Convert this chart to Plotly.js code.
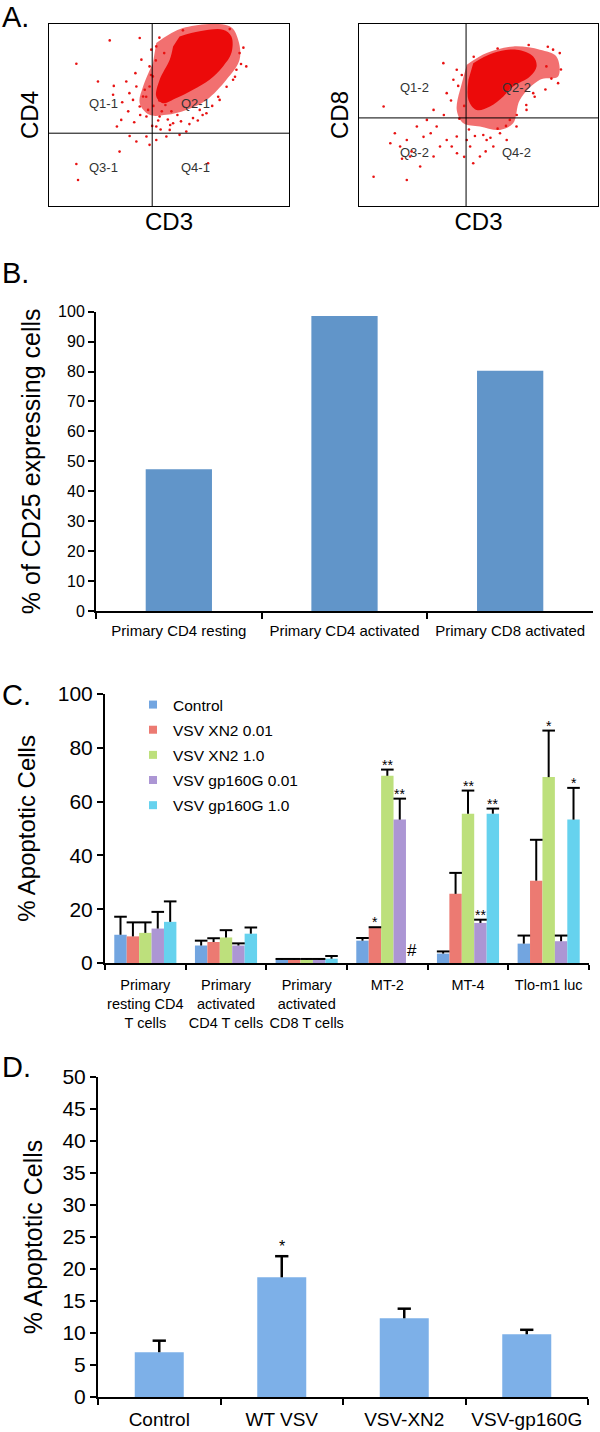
<!DOCTYPE html>
<html>
<head>
<meta charset="utf-8">
<script src="https://cdn.plot.ly/plotly-3.0.1.min.js"></script>
<style>html,body{margin:0;padding:0;background:#fff}#chart{width:600px;height:1432px}</style>
</head>
<body>
<div id="chart"></div>
<script>
// ---------------- Panel A: flow cytometry (arbitrary 0-100 fluorescence units) ----------------
const gateX = [43, 44.8];      // CD3 gate for plot 1 and plot 2
const gateY = [40, 48.4];      // CD4 gate (plot 1), CD8 gate (plot 2)
const quadLabels1 = ['Q1-1', 'Q2-1', 'Q3-1', 'Q4-1'];
const quadLabels2 = ['Q1-2', 'Q2-2', 'Q3-2', 'Q4-2'];

const haloA1x = [44.7, 55.8, 75.3, 78.8, 79.4, 73.9, 65.6, 57.2, 48.9, 41.9, 37.8, 39.2, 43.3];
const haloA1y = [89.5, 97.8, 98.7, 91.4, 80.4, 69.4, 58.3, 52.8, 50.1, 50.1, 56.5, 65.7, 78.5];
const coreA1x = [54.4, 62.8, 72.5, 76.0, 76.0, 72.5, 66.9, 60.0, 53.1, 47.5, 44.7, 46.1, 50.3, 51.7];
const coreA1y = [93.2, 96.0, 96.9, 93.2, 84.0, 76.7, 69.4, 63.9, 59.3, 56.5, 60.2, 69.4, 80.4, 87.7];
const dotsA1x = [25.3, 11.4, 20.4, 37.8, 38.5, 32.2, 26.7, 30.1, 28.3, 33.6, 36.4, 40.6, 41.9, 44.7, 48.9, 54.4, 57.2, 44.7, 46.1, 40.6, 37.8, 35.0, 39.2, 41.3, 11.4, 12.1, 29.4, 82.2, 76.7, 71.1, 65.6, 62.8, 60.0, 51.7, 50.3, 41.9, 39.9, 36.4, 43.3, 41.9, 42.6, 44.7, 55.8, 75.3, 79.4, 78.1, 66.3,
  45.5, 47.0, 49.5, 43.5, 46.0, 48.5, 51.0, 53.5, 55.0, 58.5, 62.0, 64.0, 68.0, 70.5, 74.0, 77.5, 80.0, 81.0, 46.0, 48.0, 44.5, 42.5, 40.5, 38.0, 35.5, 33.0, 30.5, 43.0, 46.5, 50.5, 33.5, 36.0, 27.0];
const dotsA1y = [91.0, 78.2, 68.4, 92.3, 80.4, 68.4, 61.1, 47.3, 43.7, 38.5, 35.4, 38.2, 33.6, 36.3, 38.2, 39.1, 40.9, 43.7, 49.2, 49.2, 54.7, 58.3, 60.2, 52.8, 23.1, 14.3, 29.9, 76.7, 69.4, 58.3, 51.0, 52.8, 48.3, 45.5, 41.8, 65.7, 63.9, 65.7, 71.2, 76.7, 85.9, 87.7, 96.5, 97.2, 84.0, 74.9, 23.5,
  47.0, 52.0, 47.5, 55.0, 58.0, 55.5, 52.0, 50.0, 46.5, 45.0, 47.0, 50.0, 55.0, 60.0, 65.5, 71.0, 78.0, 87.0, 92.5, 84.0, 80.0, 72.0, 60.0, 50.0, 46.0, 52.0, 57.0, 44.0, 42.0, 44.5, 62.0, 73.0, 66.0];

const haloA2x = [45.1, 53.4, 64.5, 75.7, 82.6, 83.3, 75.7, 67.3, 64.5, 59.0, 50.6, 43.7, 40.9, 42.3];
const haloA2y = [77.6, 84.0, 87.7, 85.9, 82.2, 71.2, 69.4, 58.3, 45.5, 41.8, 43.7, 45.5, 52.8, 63.9];
const coreA2x = [47.8, 56.2, 65.9, 72.9, 74.3, 71.5, 64.5, 60.4, 54.8, 49.2, 45.8, 45.8];
const coreA2y = [78.5, 84.0, 85.9, 82.2, 76.7, 71.2, 65.7, 60.2, 54.7, 52.8, 58.3, 69.4];
const dotsA2x = [81.2, 84.0, 83.3, 78.4, 72.9, 70.1, 65.9, 61.8, 56.2, 50.6, 47.8, 46.5, 40.9, 36.7, 32.5, 28.4, 24.2, 20.0, 17.2, 13.1, 10.3, 6.1, 20.0, 21.4, 25.6, 31.2, 33.9, 38.8, 35.3, 39.5, 40.9, 36.7, 31.2, 53.4, 59.0, 63.1, 45.1,
  44.0, 42.0, 46.0, 48.5, 52.0, 55.0, 58.0, 61.5, 66.0, 70.0, 73.5, 78.0, 80.5, 84.5, 79.0, 71.0, 58.0, 48.0, 43.0, 41.5, 38.5, 35.5, 30.0, 27.0, 22.0, 18.0, 15.0, 41.0, 44.0, 53.0];
const dotsA2y = [85.9, 84.0, 67.5, 76.7, 62.0, 52.8, 43.7, 36.3, 32.7, 27.2, 23.5, 32.7, 38.2, 36.3, 43.7, 47.3, 43.7, 36.3, 32.7, 34.5, 54.7, 16.1, 14.3, 27.2, 21.7, 27.2, 32.7, 32.7, 78.5, 69.4, 74.9, 62.0, 52.8, 36.3, 40.0, 47.3, 36.3,
  55.0, 48.0, 42.0, 38.5, 39.0, 37.5, 42.5, 44.0, 50.0, 55.5, 60.0, 64.0, 70.0, 75.0, 87.5, 88.5, 86.5, 82.0, 72.0, 66.0, 58.0, 50.0, 40.0, 38.0, 30.0, 26.0, 40.0, 29.0, 27.0, 30.0];

// ---------------- Panel B ----------------
const catB = ['Primary CD4 resting', 'Primary CD4 activated', 'Primary CD8 activated'];
const valB = [47.4, 98.6, 80.3];

// ---------------- Panel C ----------------
const catC = ['Primary<br>resting CD4<br>T cells', 'Primary<br>activated<br>CD4 T cells', 'Primary<br>activated<br>CD8 T cells', 'MT-2', 'MT-4', 'Tlo-m1 luc'];
const seriesC = ['Control', 'VSV XN2 0.01', 'VSV XN2 1.0', 'VSV gp160G 0.01', 'VSV gp160G 1.0'];
const colorsC = ['#72a5e0', '#ec7a72', '#bde07c', '#ac96d4', '#66d2ee'];
const controlC = [10.5, 6.5, 1.2, 8.3, 3.5, 7.2];
const xn2LowC = [9.9, 7.8, 1.2, 13.0, 25.7, 30.6];
const xn2HighC = [11.2, 9.5, 1.2, 69.6, 55.5, 69.1];
const gpLowC = [12.8, 6.5, 1.2, 53.3, 14.9, 8.1];
const gpHighC = [15.3, 10.9, 1.6, null, 55.5, 53.3];
const controlErrC = [6.7, 1.8, 0.3, 1.0, 0.8, 3.0];
const xn2LowErrC = [5.2, 1.4, 0.3, 0.3, 7.8, 15.2];
const xn2HighErrC = [3.9, 2.7, 0.3, 2.3, 8.6, 17.3];
const gpLowErrC = [6.2, 0.8, 0.3, 7.8, 1.2, 2.1];
const gpHighErrC = [7.6, 2.3, 1.0, null, 1.9, 11.8];
const controlSigC = ['', '', '', '', '', ''];
const xn2LowSigC = ['', '', '', '*', '', ''];
const xn2HighSigC = ['', '', '', '**', '**', '*'];
const gpLowSigC = ['', '', '', '**', '**', ''];
const gpHighSigC = ['', '', '', '', '**', '*'];
const notDoneC = ['', '', '', '#', '', ''];   // '#' : not determined

// ---------------- Panel D ----------------
const catD = ['Control', 'WT VSV', 'VSV-XN2', 'VSV-gp160G'];
const valD = [7.0, 18.7, 12.3, 9.8];
const errD = [1.8, 3.3, 1.5, 0.7];
const sigD = ['', '*', '', ''];

// =====================================================================
const F = 'Liberation Sans, Arial, Helvetica, sans-serif';
const W = 600, H = 1432;
const px = v => v / W;
const py = v => 1 - v / H;

const traces = [];
const annotations = [];
const shapes = [];

// ---- Panel A traces
function flowPlot(hx, hy, cx, cy, dx, dy, xa, ya) {
  traces.push({type: 'scatter', x: hx, y: hy, xaxis: xa, yaxis: ya, mode: 'lines', fill: 'toself',
    line: {width: 0, shape: 'spline', smoothing: 1}, fillcolor: 'rgba(234,24,24,0.62)', showlegend: false, hoverinfo: 'skip'});
  traces.push({type: 'scatter', x: cx, y: cy, xaxis: xa, yaxis: ya, mode: 'lines', fill: 'toself',
    line: {width: 0, shape: 'spline', smoothing: 1}, fillcolor: '#ec0a0a', showlegend: false, hoverinfo: 'skip'});
  traces.push({type: 'scatter', x: dx, y: dy, xaxis: xa, yaxis: ya, mode: 'markers',
    marker: {size: 2.6, color: '#e81212'}, showlegend: false, hoverinfo: 'skip'});
}
flowPlot(haloA1x, haloA1y, coreA1x, coreA1y, dotsA1x, dotsA1y, 'x', 'y');
flowPlot(haloA2x, haloA2y, coreA2x, coreA2y, dotsA2x, dotsA2y, 'x2', 'y2');

[[gateX[0], gateY[0], 'x', 'y', quadLabels1, 18], [gateX[1], gateY[1], 'x2', 'y2', quadLabels2, 21]].forEach(([gx, gy, xa, ya, labs, dxr]) => {
  shapes.push({type: 'line', xref: xa, yref: ya, x0: gx, x1: gx, y0: 0, y1: 100, line: {color: '#000', width: 1}});
  shapes.push({type: 'line', xref: xa, yref: ya, x0: 0, x1: 100, y0: gy, y1: gy, line: {color: '#000', width: 1}});
  const qx = [gx / 2 + 1, gx + dxr, gx / 2 + 1, gx + dxr];
  const qy = [gy + 16.5, gy + 16.5, gy - 19, gy - 19];
  labs.forEach((t, i) => annotations.push({xref: xa, yref: ya, x: qx[i], y: qy[i], text: t, showarrow: false,
    font: {family: F, size: 13, color: '#333'}}));
});

// ---- Panel B
traces.push({type: 'bar', x: catB, y: valB, xaxis: 'x3', yaxis: 'y3', width: 0.4,
  marker: {color: '#6195c9'}, showlegend: false, hoverinfo: 'skip'});

// ---- Panel C
const valsC = [controlC, xn2LowC, xn2HighC, gpLowC, gpHighC];
const errsC = [controlErrC, xn2LowErrC, xn2HighErrC, gpLowErrC, gpHighErrC];
const sigsC = [controlSigC, xn2LowSigC, xn2HighSigC, gpLowSigC, gpHighSigC];
const groupFrac = 0.77;
const barW = groupFrac / seriesC.length;
const offC = s => -groupFrac / 2 + barW * (s + 0.5);
const capX = [], capY = [], capErr = [];
valsC.forEach((vals, s) => {
  const xs = vals.map((v, i) => i + offC(s));
  traces.push({type: 'bar', x: xs, y: vals, xaxis: 'x4', yaxis: 'y4', width: barW,
    marker: {color: colorsC[s]}, name: seriesC[s], showlegend: false, hoverinfo: 'skip'});
  vals.forEach((v, i) => {
    if (v === null) return;
    capX.push(xs[i]); capY.push(v + errsC[s][i]); capErr.push(errsC[s][i]);
    if (sigsC[s][i]) annotations.push({xref: 'x4', yref: 'y4', x: xs[i], y: v + errsC[s][i], yanchor: 'bottom',
      yshift: -5, text: sigsC[s][i], showarrow: false, font: {family: F, size: 14, color: '#000'}});
  });
  // legend entries (small squares)
  traces.push({type: 'scatter', x: [null], y: [null], xaxis: 'x4', yaxis: 'y4', mode: 'markers', name: seriesC[s],
    legendgroup: 'g' + s, marker: {symbol: 'square', size: 8, color: colorsC[s]}, showlegend: true, hoverinfo: 'skip'});
});
notDoneC.forEach((t, i) => {
  if (t) annotations.push({xref: 'x4', yref: 'y4', x: i + offC(4), y: 4.5, text: t, showarrow: false,
    font: {family: F, size: 17, color: '#000'}});
});
traces.push({type: 'scatter', x: capX, y: capY, xaxis: 'x4', yaxis: 'y4', mode: 'markers',
  marker: {symbol: 'line-ew', size: 9, color: '#000', line: {width: 2, color: '#000'}},
  error_y: {type: 'data', symmetric: false, array: capErr.map(() => 0), arrayminus: capErr, width: 0, thickness: 2, color: '#000'},
  showlegend: false, hoverinfo: 'skip'});

// ---- Panel D
traces.push({type: 'bar', x: catD, y: valD, xaxis: 'x5', yaxis: 'y5', width: 0.4,
  marker: {color: '#7db0e8'}, showlegend: false, hoverinfo: 'skip'});
traces.push({type: 'scatter', x: catD, y: valD.map((v, i) => v + errD[i]), xaxis: 'x5', yaxis: 'y5', mode: 'markers',
  marker: {symbol: 'line-ew', size: 9.5, color: '#000', line: {width: 2.5, color: '#000'}},
  error_y: {type: 'data', symmetric: false, array: errD.map(() => 0), arrayminus: errD, width: 0, thickness: 2.5, color: '#000'},
  showlegend: false, hoverinfo: 'skip'});
sigD.forEach((t, i) => {
  if (t) annotations.push({xref: 'x5', yref: 'y5', x: catD[i], y: valD[i] + errD[i], yanchor: 'bottom', yshift: -1,
    text: t, showarrow: false, font: {family: F, size: 16, color: '#000'}});
});

// ---- Panel letters
[['A.', 17], ['B.', 273], ['C.', 695], ['D.', 1067]].forEach(([t, y]) => annotations.push({
  xref: 'paper', yref: 'paper', x: 0, y: py(y), xanchor: 'left', yanchor: 'middle', text: t, showarrow: false,
  font: {family: F, size: 29, color: '#000'}}));

// ---- Axes helpers
const flowX = (dom, title, so) => ({domain: dom, range: [0, 100], showline: true, mirror: true, linecolor: '#000', linewidth: 1,
  ticks: '', showticklabels: false, showgrid: false, zeroline: false, fixedrange: true,
  title: {text: title, font: {family: F, size: 24, color: '#000'}, standoff: so}});
const barY = (dom, range, dtick, fs, title, tfs, standoff) => ({domain: dom, range: range, dtick: dtick, tick0: 0,
  ticks: 'outside', ticklen: 6, tickwidth: 2, tickcolor: '#000', showline: true, linecolor: '#000', linewidth: 2,
  showgrid: false, zeroline: false, tickfont: {family: F, size: fs, color: '#000'},
  title: {text: title, font: {family: F, size: tfs, color: '#000'}, standoff: standoff}});

const layout = {
  width: W, height: H, margin: {l: 0, r: 0, t: 0, b: 0},
  paper_bgcolor: '#fff', plot_bgcolor: 'rgba(0,0,0,0)',
  font: {family: F, color: '#000'},
  barmode: 'overlay',
  showlegend: true,
  legend: {x: px(133), y: py(688), xanchor: 'left', yanchor: 'top', bgcolor: 'rgba(0,0,0,0)',
    font: {family: F, size: 15.5, color: '#000'}, tracegroupgap: 2, traceorder: 'grouped'},
  xaxis: flowX([px(49), px(289)], 'CD3', 7),
  yaxis: Object.assign(flowX([py(206), py(24)], 'CD4', 2), {anchor: 'x'}),
  xaxis2: Object.assign(flowX([px(359), px(598)], 'CD3', 7), {anchor: 'y2'}),
  yaxis2: Object.assign(flowX([py(206), py(24)], 'CD8', 2), {anchor: 'x2'}),
  xaxis3: {domain: [px(96), px(593)], anchor: 'y3', type: 'category', tickson: 'boundaries', ticks: 'outside', ticklen: 6,
    tickwidth: 2, tickcolor: '#000', showline: true, linecolor: '#000', linewidth: 2, showgrid: false, tickangle: 0,
    ticklabelstandoff: 5, tickfont: {family: F, size: 15, color: '#000'}},
  yaxis3: Object.assign(barY([py(611), py(311.7)], [0, 100], 10, 16, '% of CD25 expressing cells', 25, 10), {anchor: 'x3'}),
  xaxis4: {domain: [px(105), px(589)], anchor: 'y4', range: [-0.5, 5.5], tickmode: 'array', tickvals: catC.map((c, i) => i),
    ticktext: catC, ticks: '', showline: true, linecolor: '#000', linewidth: 2, showgrid: false, zeroline: false, tickangle: 0,
    ticklabelstandoff: 8, tickfont: {family: F, size: 14.5, color: '#000'},
    minor: {tickmode: 'array', tickvals: catC.map((c, i) => i - 0.5).concat([catC.length - 0.5]), ticks: 'outside',
      ticklen: 5, tickwidth: 2, tickcolor: '#000', showgrid: false}},
  yaxis4: Object.assign(barY([py(963), py(694)], [0, 100], 20, 21, '% Apoptotic Cells', 24, 15), {anchor: 'x4'}),
  xaxis5: {domain: [px(98), px(588)], anchor: 'y5', type: 'category', tickson: 'boundaries', ticks: 'outside', ticklen: 6,
    tickwidth: 2, tickcolor: '#000', showline: true, linecolor: '#000', linewidth: 2, showgrid: false, tickangle: 0,
    ticklabelstandoff: 4, tickfont: {family: F, size: 19, color: '#000'}},
  yaxis5: Object.assign(barY([py(1397), py(1077)], [0, 50], 5, 21, '% Apoptotic Cells', 25, 13), {anchor: 'x5'}),
  annotations: annotations,
  shapes: shapes
};

Plotly.newPlot('chart', traces, layout, {staticPlot: true, displayModeBar: false});
</script>
</body>
</html>
